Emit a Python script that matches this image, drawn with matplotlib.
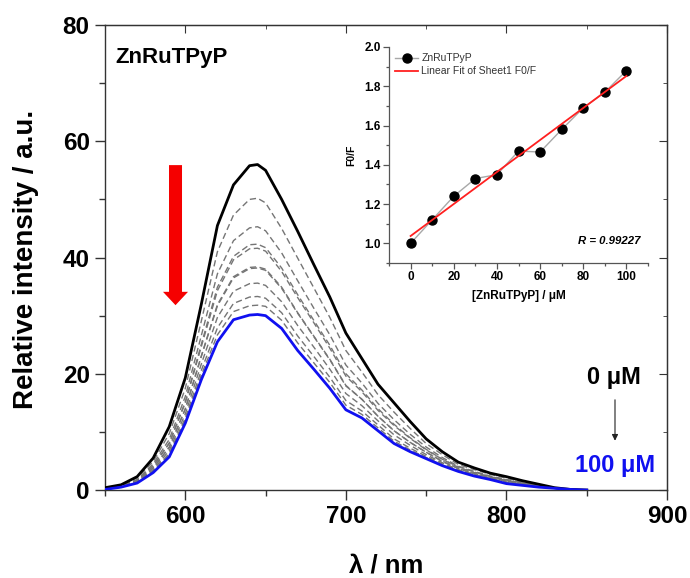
import matplotlib
matplotlib.use("Agg")
import matplotlib.pyplot as plt
import numpy as np
from matplotlib.ticker import MultipleLocator

# ---------------- emission spectra ----------------
wavelength = [550, 560, 570, 580, 590, 600, 610, 620, 630, 640, 645, 650, 660, 670,
              680, 690, 700, 710, 720, 730, 740, 750, 760, 770, 780, 790, 800,
              810, 820, 830, 840, 850]

i_0uM = [0.4, 0.9, 2.3, 5.5, 10.9, 19.3, 32.0, 45.5, 52.5, 55.8, 56.0, 55.0, 50.0, 44.5,
         38.8, 33.2, 27.0, 22.6, 18.2, 15.0, 11.8, 8.8, 6.6, 4.8, 3.8, 2.9, 2.3,
         1.6, 1.0, 0.4, 0.1, 0.0]
i_10uM = [0.3, 0.8, 2.1, 4.9, 9.7, 17.5, 29.1, 41.0, 47.3, 50.0, 50.2, 49.4, 45.0, 39.9,
          34.8, 29.7, 24.0, 20.3, 16.4, 13.4, 10.6, 8.0, 6.1, 4.4, 3.5, 2.7, 2.0,
          1.4, 0.9, 0.4, 0.1, 0.0]
i_20uM = [0.3, 0.7, 1.8, 4.5, 8.7, 16.1, 26.6, 37.2, 42.9, 45.1, 45.3, 44.6, 40.8, 36.0,
          31.3, 26.7, 21.5, 18.4, 14.9, 12.1, 9.6, 7.4, 5.6, 4.1, 3.2, 2.4, 1.8,
          1.3, 0.8, 0.4, 0.1, 0.0]
i_30uM = [0.2, 0.7, 1.7, 4.2, 8.1, 15.2, 25.1, 34.9, 40.2, 42.2, 42.3, 41.7, 38.2, 33.6,
          29.2, 24.9, 20.0, 17.2, 14.0, 11.3, 9.0, 7.0, 5.3, 4.0, 3.1, 2.3, 1.7,
          1.2, 0.7, 0.3, 0.1, 0.0]
i_40uM = [0.2, 0.7, 1.7, 4.1, 8.0, 15.0, 24.7, 34.3, 39.6, 41.5, 41.6, 41.1, 37.6, 33.1,
          28.8, 24.4, 19.6, 16.9, 13.7, 11.1, 8.9, 6.9, 5.3, 3.9, 3.0, 2.3, 1.6,
          1.2, 0.7, 0.3, 0.1, 0.0]
i_50uM = [0.2, 0.6, 1.5, 3.8, 7.3, 13.9, 23.0, 31.7, 36.5, 38.1, 38.2, 37.8, 34.7, 30.4,
          26.4, 22.4, 17.9, 15.6, 12.7, 10.2, 8.2, 6.5, 4.9, 3.7, 2.8, 2.1, 1.5,
          1.1, 0.7, 0.3, 0.1, 0.0]
i_60uM = [0.2, 0.6, 1.5, 3.8, 7.4, 14.0, 23.1, 31.9, 36.7, 38.3, 38.4, 38.0, 34.9, 30.5,
          26.5, 22.5, 18.0, 15.6, 12.7, 10.2, 8.2, 6.5, 5.0, 3.7, 2.8, 2.2, 1.5,
          1.1, 0.7, 0.3, 0.1, 0.0]
i_70uM = [0.2, 0.6, 1.4, 3.5, 6.8, 13.1, 21.7, 29.7, 34.2, 35.5, 35.6, 35.2, 32.4, 28.3,
          24.6, 20.8, 16.6, 14.5, 11.9, 9.5, 7.7, 6.1, 4.7, 3.5, 2.7, 2.0, 1.4,
          1.0, 0.6, 0.3, 0.1, 0.0]
i_80uM = [0.1, 0.5, 1.3, 3.3, 6.3, 12.4, 20.6, 27.9, 32.1, 33.2, 33.3, 33.0, 30.5, 26.5,
          23.0, 19.4, 15.4, 13.6, 11.2, 8.8, 7.2, 5.8, 4.5, 3.4, 2.6, 1.9, 1.2,
          0.9, 0.6, 0.3, 0.1, 0.0]
i_90uM = [0.1, 0.5, 1.3, 3.2, 6.0, 12.0, 19.8, 26.7, 30.7, 31.7, 31.8, 31.6, 29.2, 25.3,
          21.9, 18.5, 14.6, 13.0, 10.7, 8.4, 6.9, 5.6, 4.3, 3.3, 2.5, 1.9, 1.2,
          0.9, 0.5, 0.3, 0.1, 0.0]
i_100uM = [0.1, 0.5, 1.2, 3.0, 5.7, 11.5, 19.0, 25.5, 29.3, 30.1, 30.2, 30.0, 27.8, 24.0,
           20.8, 17.5, 13.8, 12.4, 10.2, 8.0, 6.6, 5.4, 4.2, 3.2, 2.4, 1.8, 1.1,
           0.8, 0.5, 0.3, 0.1, 0.0]

intermediate = [i_10uM, i_20uM, i_30uM, i_40uM, i_50uM, i_60uM, i_70uM, i_80uM, i_90uM]

# ---------------- Stern-Volmer data ----------------
conc_uM = [0, 10, 20, 30, 40, 50, 60, 70, 80, 90, 100]
f0_over_f = [1.00, 1.12, 1.24, 1.33, 1.35, 1.47, 1.465, 1.58, 1.69, 1.77, 1.88]

x_ticks = [600, 700, 800, 900]
y_ticks = [0, 20, 40, 60, 80]
inset_x_ticks = [0, 20, 40, 60, 80, 100]
inset_y_ticks = [1.0, 1.2, 1.4, 1.6, 1.8, 2.0]

plt.rcParams['font.family'] = ['Liberation Sans', 'DejaVu Sans']

fig = plt.figure(figsize=(6.9, 5.78), dpi=100)
ax = fig.add_axes([0.1522, 0.1522, 0.8145, 0.8045])

spine_col = '#333333'
for s in ax.spines.values():
    s.set_color(spine_col)
    s.set_linewidth(1.0)

for curve in intermediate:
    ax.plot(wavelength, curve, color='#757575', lw=1.0, ls=(0, (4.5, 2.5)), zorder=2)
ax.plot(wavelength, i_0uM, color='black', lw=2.0, zorder=3)
ax.plot(wavelength, i_100uM, color='#1010f0', lw=2.0, zorder=3)

ax.set_xlim(550, 900)
ax.set_ylim(0, 80)
ax.set_xticks(x_ticks)
ax.set_yticks(y_ticks)
ax.xaxis.set_minor_locator(MultipleLocator(50))
ax.yaxis.set_minor_locator(MultipleLocator(10))
ax.tick_params(which='both', direction='out', color=spine_col, width=1.0)
ax.tick_params(which='major', length=7, labelsize=17.5, pad=4)
ax.tick_params(which='minor', length=4)
for lab in ax.get_xticklabels() + ax.get_yticklabels():
    lab.set_fontweight('bold')

# inward ticks on the top and right frame
top = ax.secondary_xaxis('top')
top.set_xticks(x_ticks)
top.xaxis.set_minor_locator(MultipleLocator(50))
top.tick_params(which='both', direction='in', labeltop=False, color=spine_col)
top.tick_params(which='major', length=6)
top.tick_params(which='minor', length=3)
top.spines['top'].set_color(spine_col)
right = ax.secondary_yaxis('right')
right.set_yticks(y_ticks)
right.yaxis.set_minor_locator(MultipleLocator(10))
right.tick_params(which='both', direction='in', labelright=False, color=spine_col)
right.tick_params(which='major', length=6)
right.tick_params(which='minor', length=3)
right.spines['right'].set_color(spine_col)

ax.set_xlabel('λ / nm', fontsize=18.5, fontweight='bold', labelpad=18)
ax.set_ylabel('Relative intensity / a.u.', fontsize=20, fontweight='bold')
ax.yaxis.set_label_coords(-0.118, 0.495)

ax.text(0.018, 0.93, 'ZnRuTPyP', transform=ax.transAxes, fontsize=16,
        fontweight='bold', va='center', ha='left')

# quenching direction
ax.arrow(593.9, 55.9, 0, -24.1, width=8.1, head_width=15.6, head_length=2.3,
         length_includes_head=True, color='#f50000', ec='none', zorder=4)

ax.text(867, 19.4, '0 μM', fontsize=17, fontweight='bold', ha='center', va='center')
ax.text(867.5, 4.3, '100 μM', fontsize=17, fontweight='bold', ha='center', va='center',
        color='#1010f0')
ax.annotate('', xy=(867.6, 8.0), xytext=(867.6, 16.0),
            arrowprops=dict(arrowstyle='-|>', lw=0.8, color='#222222', mutation_scale=9))

# ---------------- inset: F0/F vs concentration ----------------
ins = fig.add_axes([0.5638, 0.545, 0.3754, 0.3737])
ins.spines['top'].set_visible(False)
ins.spines['right'].set_visible(False)
for s in ('left', 'bottom'):
    ins.spines[s].set_color('#555555')
    ins.spines[s].set_linewidth(0.9)

ins.plot(conc_uM, f0_over_f, color='#a8a8a8', lw=1.0, marker='o', markersize=6.5,
         markerfacecolor='black', markeredgecolor='black', label='ZnRuTPyP', zorder=3)
slope, intercept = np.polyfit(conc_uM, f0_over_f, 1)
fit_x = np.array([conc_uM[0], conc_uM[-1]])
ins.plot(fit_x, slope * fit_x + intercept, color='#ff2020', lw=1.3,
         label='Linear Fit of Sheet1 F0/F', zorder=4)

ins.set_xlim(-10, 110)
ins.set_ylim(0.9, 2.0)
ins.set_xticks(inset_x_ticks)
ins.set_yticks(inset_y_ticks)
ins.xaxis.set_minor_locator(MultipleLocator(10))
ins.yaxis.set_minor_locator(MultipleLocator(0.1))
ins.tick_params(which='both', direction='out', color='#555555', width=0.9)
ins.tick_params(which='major', length=4, labelsize=8.5, pad=2)
ins.tick_params(which='minor', length=2)
for lab in ins.get_xticklabels() + ins.get_yticklabels():
    lab.set_fontweight('bold')
ins.set_yticklabels(['%.1f' % v for v in inset_y_ticks], fontweight='bold')

ins.set_xlabel('[ZnRuTPyP] / μM', fontsize=8.5, fontweight='bold', labelpad=5)
ins.set_ylabel('F0/F', fontsize=7.5, fontweight='bold', labelpad=6)

leg = ins.legend(loc='upper left', frameon=False, fontsize=7.5, handlelength=2.2,
                 borderaxespad=0.2, handletextpad=0.3, labelspacing=0.3)
for t in leg.get_texts():
    t.set_color('#333333')

ins.text(0.97, 0.1, 'R = 0.99227', transform=ins.transAxes, fontsize=8.2,
         fontweight='bold', fontstyle='italic', ha='right', va='center')

fig.savefig('out.png', dpi=100)
